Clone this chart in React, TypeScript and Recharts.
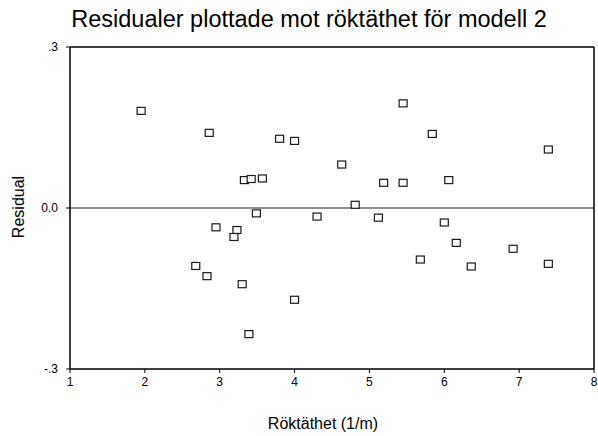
import React from "react";
import {
  ScatterChart,
  Scatter,
  XAxis,
  YAxis,
  ReferenceLine,
} from "recharts";

const densityValues = [
  1.95, 2.86, 3.8, 4.0, 4.63, 3.33, 3.42, 3.57, 5.19, 5.45, 6.06, 5.45, 5.84,
  7.39, 3.49, 4.3, 4.81, 5.12, 2.95, 3.23, 3.19, 6.0, 6.16, 6.92, 2.68, 2.83,
  3.3, 5.68, 6.36, 7.39, 4.0, 3.39,
];
const residualValues = [
  0.181, 0.14, 0.129, 0.125, 0.081, 0.052, 0.054, 0.055, 0.047, 0.047, 0.052,
  0.195, 0.138, 0.109, -0.01, -0.016, 0.006, -0.018, -0.036, -0.041, -0.054,
  -0.027, -0.065, -0.076, -0.108, -0.127, -0.142, -0.096, -0.109, -0.104,
  -0.171, -0.235,
];
const xTicks = [1, 2, 3, 4, 5, 6, 7, 8];
const yTicks = [-0.3, 0, 0.3];
const yTickLabels = ["-.3", "0.0", ".3"];
const titleText = "Residualer plottade mot röktäthet för modell 2";
const xLabelText = "Röktäthet (1/m)";
const yLabelText = "Residual";

const points = densityValues.map((x, i) => ({ x, y: residualValues[i] }));

const FONT = '"Liberation Sans", Arial, sans-serif';

const SquareMarker = (props: any) => {
  const { cx, cy } = props;
  if (cx == null || cy == null) return null;
  return (
    <rect
      x={cx - 4}
      y={cy - 3.5}
      width={8}
      height={7}
      fill="#fff"
      stroke="#1a1a1a"
      strokeWidth={1.2}
    />
  );
};

export default function App() {
  return (
    <div
      style={{
        position: "absolute",
        left: 0,
        top: 0,
        width: 598,
        height: 436,
        background: "#fff",
        fontFamily: FONT,
      }}
    >
      <ScatterChart
        width={598}
        height={436}
        margin={{ top: 47, right: 4, left: 0, bottom: 0 }}
      >
        <text
          x={309}
          y={27}
          textAnchor="middle"
          fontFamily={FONT}
          fontSize={23.5}
          fill="#000"
        >
          {titleText}
        </text>
        <text
          x={323}
          y={429}
          textAnchor="middle"
          fontFamily={FONT}
          fontSize={16}
          fill="#000"
        >
          {xLabelText}
        </text>
        <text
          x={24}
          y={207}
          textAnchor="middle"
          fontFamily={FONT}
          fontSize={16}
          fill="#000"
          transform="rotate(-90 24 207)"
        >
          {yLabelText}
        </text>
        <XAxis
          type="number"
          dataKey="x"
          domain={[1, 8]}
          ticks={xTicks}
          interval={0}
          height={67}
          tickSize={4}
          tickMargin={4}
          stroke="#000"
          axisLine={{ stroke: "#000", strokeWidth: 1.5 }}
          tickLine={{ stroke: "#000" }}
          tick={{ fill: "#000", fontSize: 12, fontFamily: FONT }}
          allowDataOverflow
        />
        <YAxis
          type="number"
          dataKey="y"
          domain={[-0.3, 0.3]}
          ticks={yTicks}
          interval={0}
          width={70}
          tickSize={4}
          tickMargin={8}
          stroke="#000"
          axisLine={{ stroke: "#000", strokeWidth: 1.5 }}
          tickLine={{ stroke: "#000" }}
          tick={{ fill: "#000", fontSize: 12, fontFamily: FONT }}
          tickFormatter={(v: number) => {
            const idx = yTicks.findIndex((t) => Math.abs(t - v) < 1e-9);
            return idx >= 0 ? yTickLabels[idx] : String(v);
          }}
          allowDataOverflow
        />
        <ReferenceLine y={0.3} stroke="#000" strokeWidth={1.5} />
        <ReferenceLine x={8} stroke="#000" strokeWidth={1.5} />
        <ReferenceLine y={0} stroke="#222" strokeWidth={1} />
        <Scatter
          data={points}
          shape={<SquareMarker />}
          isAnimationActive={false}
        />
      </ScatterChart>
    </div>
  );
}
